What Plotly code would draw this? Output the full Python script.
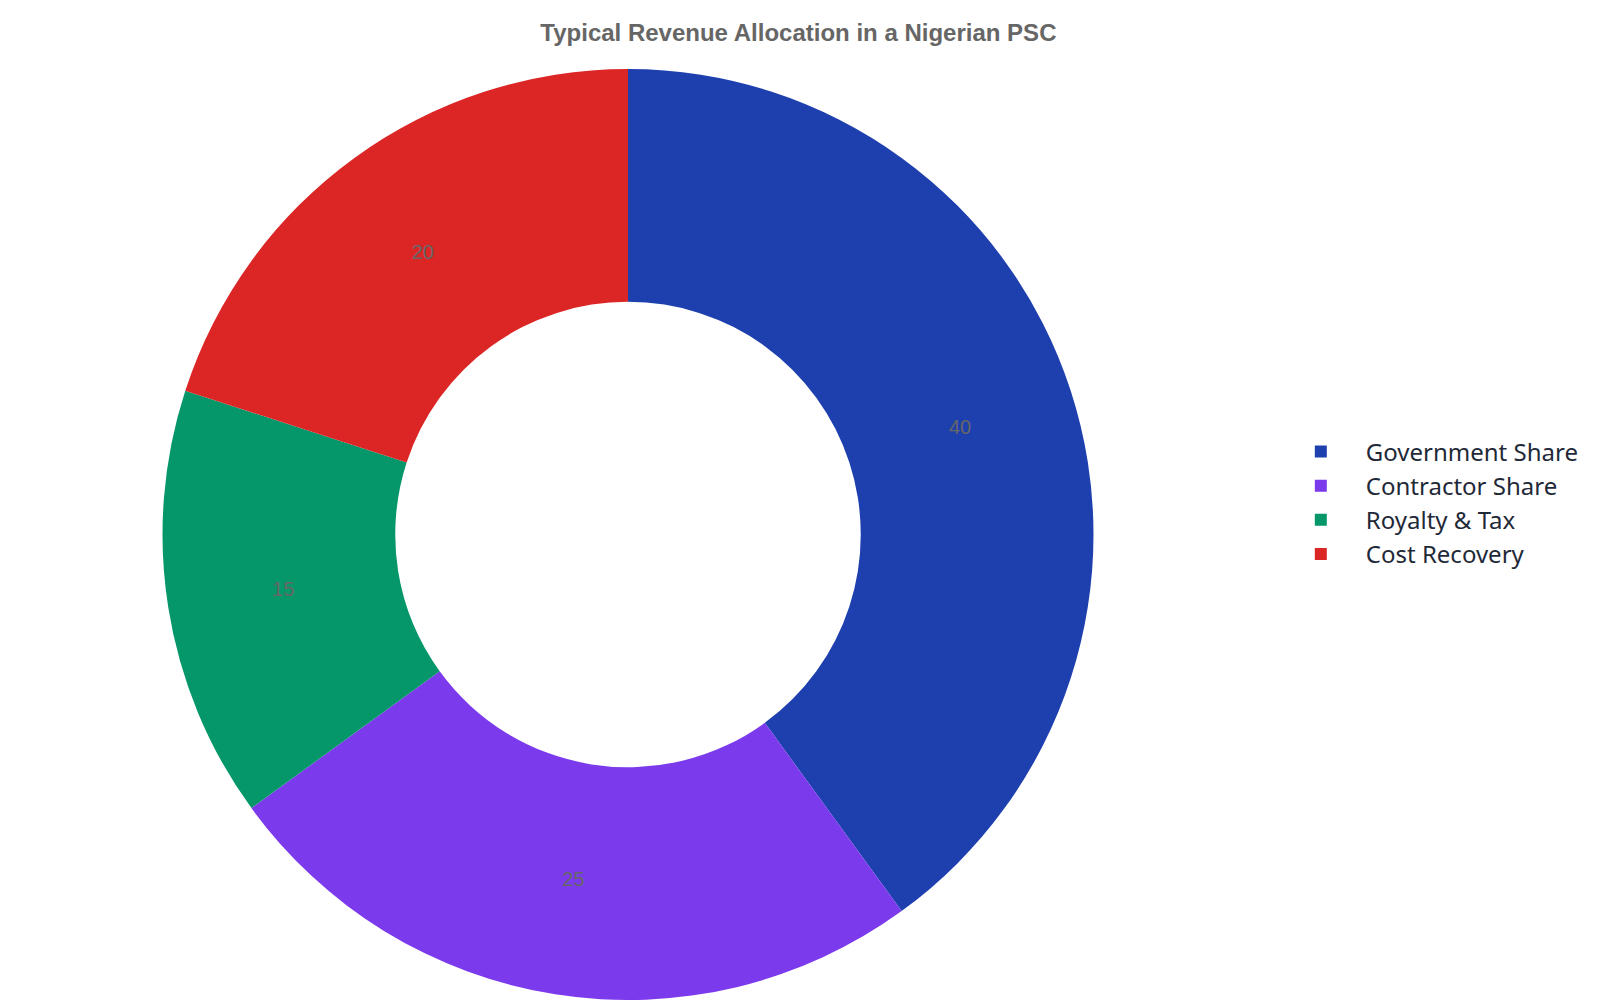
import plotly.graph_objects as go

labels = ["Government Share", "Contractor Share", "Royalty & Tax", "Cost Recovery"]
values = [40, 25, 15, 20]
colors = ["#1e40af", "#7c3aed", "#059669", "#dc2626"]

fig = go.Figure()
fig.add_trace(go.Pie(labels=labels, values=values, hole=0.5, sort=False,
                     direction="clockwise", rotation=0,
                     marker=dict(colors=colors, line=dict(width=0)),
                     textinfo="value", textposition="inside",
                     insidetextorientation="horizontal",
                     textfont=dict(family="Liberation Sans, Arial", size=20, color="#666666"),
                     hoverinfo="label+value"))

fig.update_layout(
    width=1600, height=1000,
    paper_bgcolor="white", plot_bgcolor="white",
    margin=dict(t=61, b=8, l=10, r=370),
    title=dict(text="<b>Typical Revenue Allocation in a Nigerian PSC</b>", x=0.494, xanchor="center",
               y=0.975, yanchor="middle",
               font=dict(family="Liberation Sans, Arial", size=24, color="#666666")),
    legend=dict(x=1.031, xanchor="left", y=0.534, yanchor="middle",
                font=dict(family="Noto Sans, Open Sans", size=24, color="#1f2937"),
                itemwidth=80),
)

fig.write_html("out.html")
